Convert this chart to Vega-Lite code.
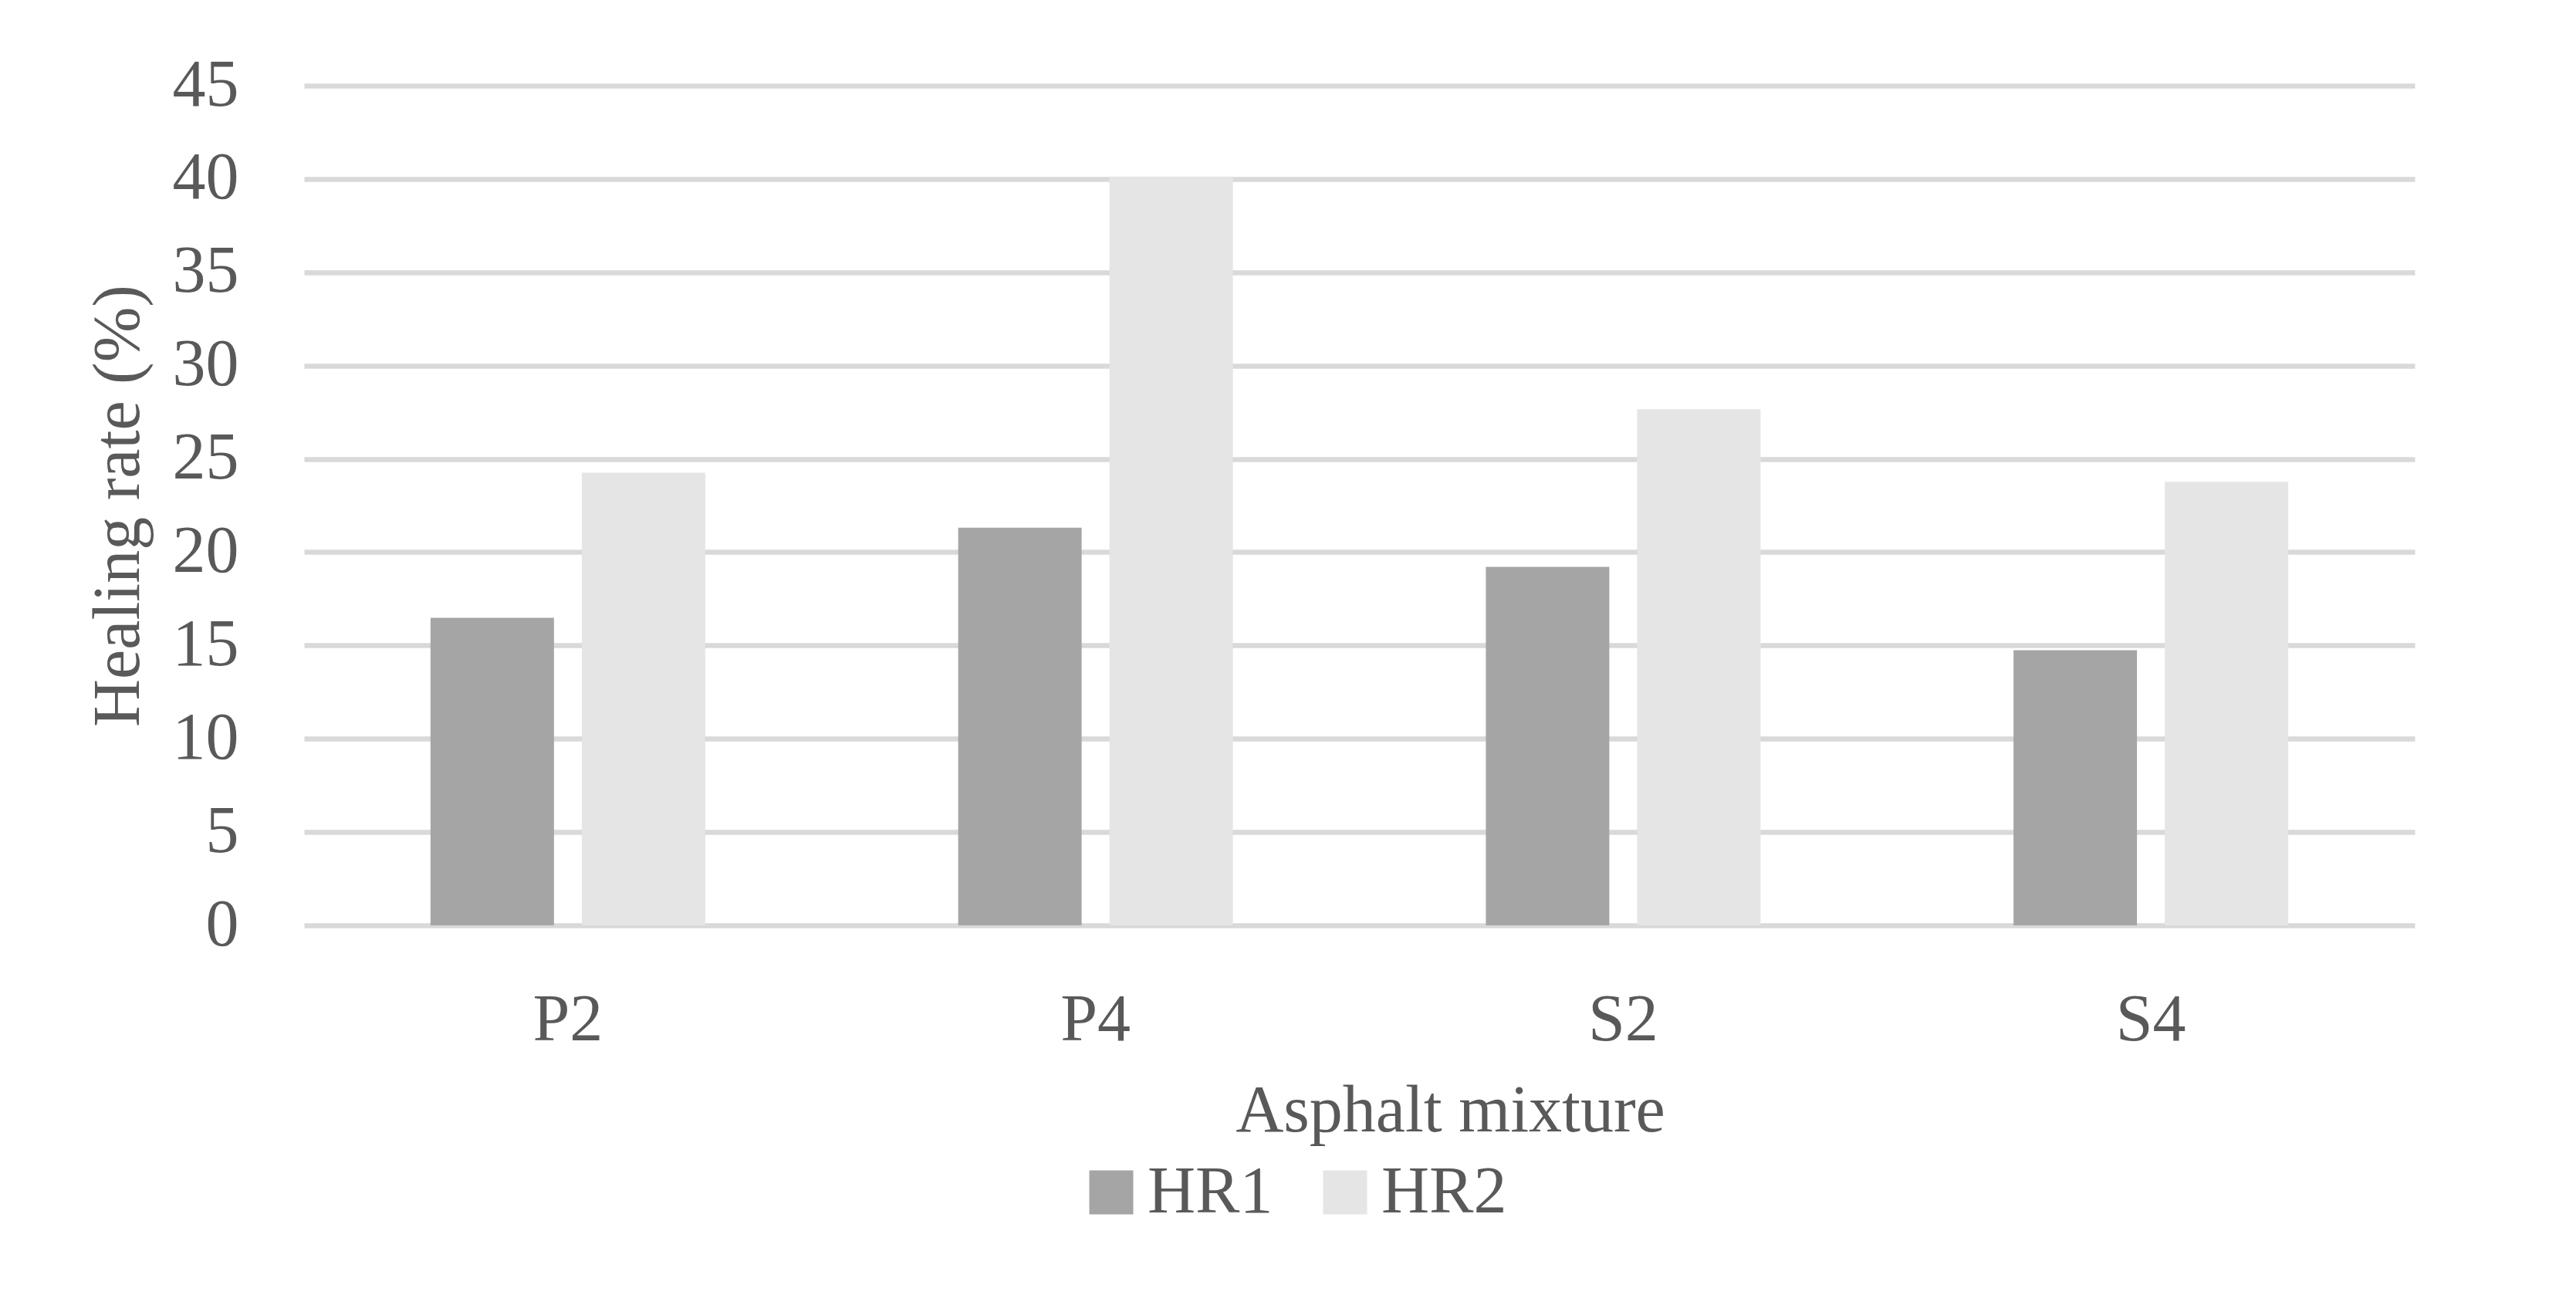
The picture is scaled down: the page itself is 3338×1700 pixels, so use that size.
{
  "$schema": "https://vega.github.io/schema/vega-lite/v6.json",
  "autosize": {"type": "none"},
  "padding": {"left": 394, "top": 111, "right": 209, "bottom": 501},
  "width": 2735,
  "height": 1088,
  "background": "white",
  "config": {
    "view": {"stroke": null},
    "font": "Liberation Serif",
    "axis": {"labelFont": "Liberation Serif", "titleFont": "Liberation Serif", "labelColor": "#595959", "titleColor": "#595959", "titleFontWeight": "normal"},
    "legend": {"labelFont": "Liberation Serif", "labelColor": "#595959"}
  },
  "data": {
    "values": [
      {"mixture": "P2", "series": "HR1", "rate": 16.48},
      {"mixture": "P2", "series": "HR2", "rate": 24.26},
      {"mixture": "P4", "series": "HR1", "rate": 21.31},
      {"mixture": "P4", "series": "HR2", "rate": 40.13},
      {"mixture": "S2", "series": "HR1", "rate": 19.21},
      {"mixture": "S2", "series": "HR2", "rate": 27.66},
      {"mixture": "S4", "series": "HR1", "rate": 14.75},
      {"mixture": "S4", "series": "HR2", "rate": 23.77}
    ]
  },
  "mark": {"type": "bar"},
  "encoding": {
    "x": {
      "field": "mixture", "type": "nominal", "sort": ["P2", "P4", "S2", "S4"],
      "scale": {"paddingInner": 0, "paddingOuter": 0},
      "axis": {
        "title": "Asphalt mixture", "labelAngle": 0, "domain": false, "ticks": false,
        "labelFontSize": 86, "labelBaseline": "alphabetic", "labelPadding": 148,
        "titleFontSize": 86, "titleX": 1485, "titleY": 266, "titleBaseline": "alphabetic", "titleAlign": "center", "titleAnchor": null
      }
    },
    "xOffset": {
      "field": "series", "type": "nominal",
      "scale": {"paddingInner": 0.184, "paddingOuter": 0.836}
    },
    "y": {
      "field": "rate", "type": "quantitative",
      "scale": {"domain": [0, 45], "nice": false},
      "axis": {
        "title": "Healing rate (%)", "values": [0, 5, 10, 15, 20, 25, 30, 35, 40, 45],
        "domain": false, "ticks": false, "grid": true, "gridColor": "#D9D9D9", "gridWidth": 6.5,
        "labelFontSize": 86, "labelBaseline": "alphabetic", "labelOffset": 25, "labelPadding": 85,
        "titleFontSize": 86, "titleX": -241, "titleY": 544, "titleBaseline": "middle", "titleAlign": "center", "titleAngle": 270
      }
    },
    "color": {
      "field": "series", "type": "nominal",
      "scale": {"domain": ["HR1", "HR2"], "range": ["#A5A5A5", "#E5E5E5"]},
      "legend": {
        "title": null, "orient": "none", "direction": "horizontal",
        "legendX": 1003, "legendY": 1391, "padding": 0,
        "symbolType": "square", "symbolSize": 3249, "symbolStrokeWidth": 0, "symbolOpacity": 1,
        "labelFontSize": 86, "labelOffset": 4, "columnPadding": 50, "labelLimit": 1000
      }
    }
  }
}
